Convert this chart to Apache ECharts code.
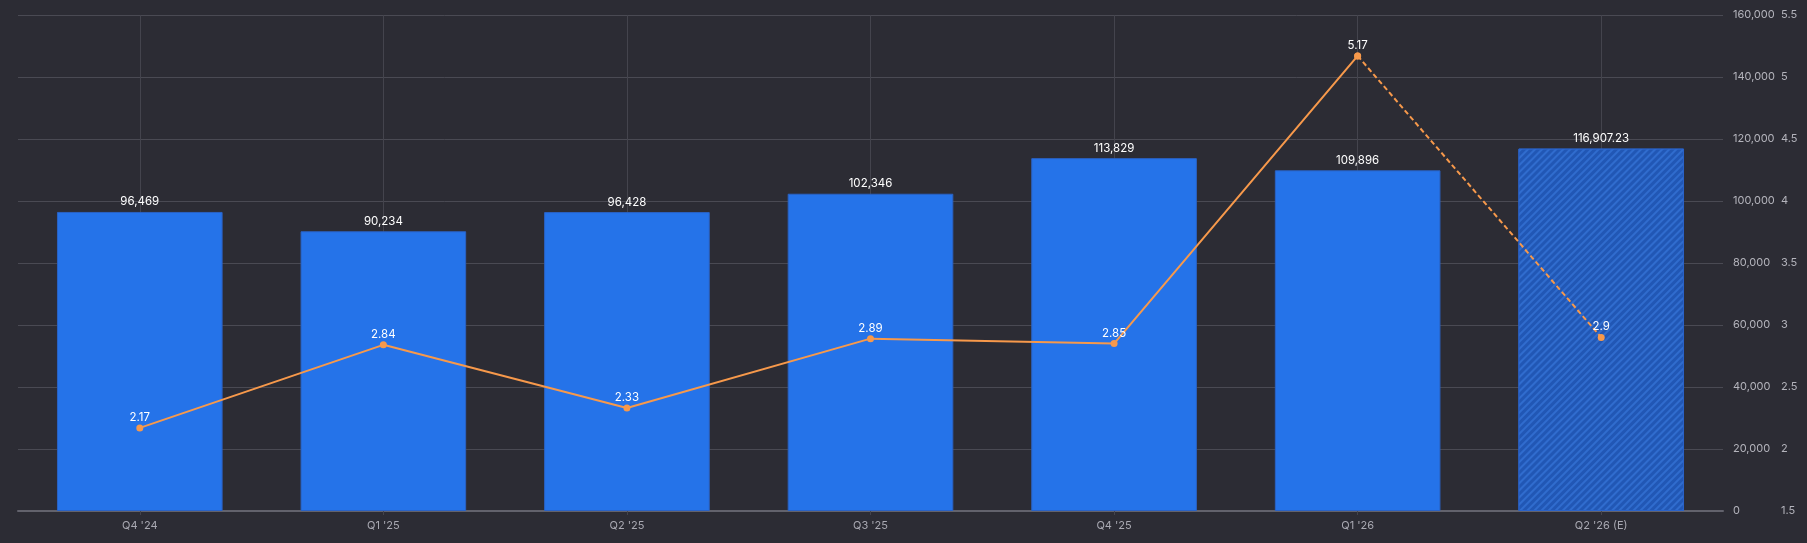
<!DOCTYPE html>
<html>
<head>
<meta charset="utf-8">
<script src="https://cdn.jsdelivr.net/npm/echarts@6/dist/echarts.min.js"></script>
<style>
html,body{margin:0;padding:0;background:#2c2c34;}
#chart{width:1807px;height:543px;}
</style>
</head>
<body>
<div id="chart"></div>
<script>
const categories = ["Q4 '24", "Q1 '25", "Q2 '25", "Q3 '25", "Q4 '25", "Q1 '26", "Q2 '26 (E)"];
const barValues = [96469, 90234, 96428, 102346, 113829, 109896, 116907.23];
const lineValues = [2.17, 2.84, 2.33, 2.89, 2.85, 5.17, 2.9];
const estimateIndex = 6;

const fontFamily = 'Inter, "Noto Sans", sans-serif';
const chart = echarts.init(document.getElementById('chart'));

const barData = barValues.map((v, i) => i === estimateIndex ? {
  value: v,
  itemStyle: {
    color: '#2157b5',
    borderColor: '#2a62c8',
    decal: {
      symbol: 'rect',
      dashArrayX: [1, 0],
      dashArrayY: [1.5, 2.5],
      rotation: -Math.PI / 4,
      color: 'rgba(60,125,225,0.55)'
    }
  }
} : v);

const solidLine = lineValues.map((v, i) => i < estimateIndex ? v : '-');
const dashedLine = lineValues.map((v, i) => i >= estimateIndex - 1 ? v : '-');

chart.setOption({
  backgroundColor: '#2c2c34',
  animation: false,
  grid: { left: 18, right: 84, top: 15, bottom: 32 },
  xAxis: {
    type: 'category',
    data: categories,
    axisLine: { lineStyle: { color: '#62626c', width: 2 } },
    axisTick: { show: true, alignWithLabel: true, length: 4, lineStyle: { color: '#44444c' } },
    axisLabel: { color: '#a9a9b2', fontSize: 11, fontFamily, margin: 9 },
    splitLine: { show: true, alignWithLabel: true, lineStyle: { color: '#44444d', width: 1 } }
  },
  yAxis: [
    {
      type: 'value', position: 'right', min: 0, max: 160000, interval: 20000,
      axisLine: { show: false }, axisTick: { show: false },
      axisLabel: { color: '#b4b4bc', fontSize: 11, fontFamily, margin: 10, align: 'left',
        formatter: v => v.toLocaleString('en-US') },
      splitLine: { lineStyle: { color: '#4a4a53', width: 1 } }
    },
    {
      type: 'value', position: 'right', offset: 48, min: 1.5, max: 5.5, interval: 0.5,
      axisLine: { show: false }, axisTick: { show: false },
      axisLabel: { color: '#b4b4bc', fontSize: 11, fontFamily, margin: 10, align: 'left' },
      splitLine: { show: false }
    }
  ],
  series: [
    {
      type: 'bar', data: barData, barWidth: '68%', yAxisIndex: 0,
      itemStyle: { color: '#2573e9', borderColor: '#2a62c4', borderWidth: 1 },
      label: { show: true, position: 'top', color: '#ffffff', fontSize: 11.5, fontFamily, distance: 4,
        formatter: p => p.value.toLocaleString('en-US', { maximumFractionDigits: 2 }) }
    },
    {
      type: 'line', data: solidLine, yAxisIndex: 1, z: 5,
      symbol: 'circle', symbolSize: 7,
      lineStyle: { color: '#f7994b', width: 2 },
      itemStyle: { color: '#f7994b' },
      label: { show: true, position: 'top', color: '#ffffff', fontSize: 11.5, fontFamily, distance: 1 }
    },
    {
      type: 'line', data: dashedLine, yAxisIndex: 1, z: 4,
      symbol: 'circle', symbolSize: 7,
      lineStyle: { color: '#f7994b', width: 2, type: [5, 3] },
      itemStyle: { color: '#f7994b' },
      label: { show: true, position: 'top', color: '#ffffff', fontSize: 11.5, fontFamily, distance: 1,
        formatter: p => p.dataIndex === estimateIndex ? String(p.value) : '' }
    }
  ]
});
</script>
</body>
</html>
